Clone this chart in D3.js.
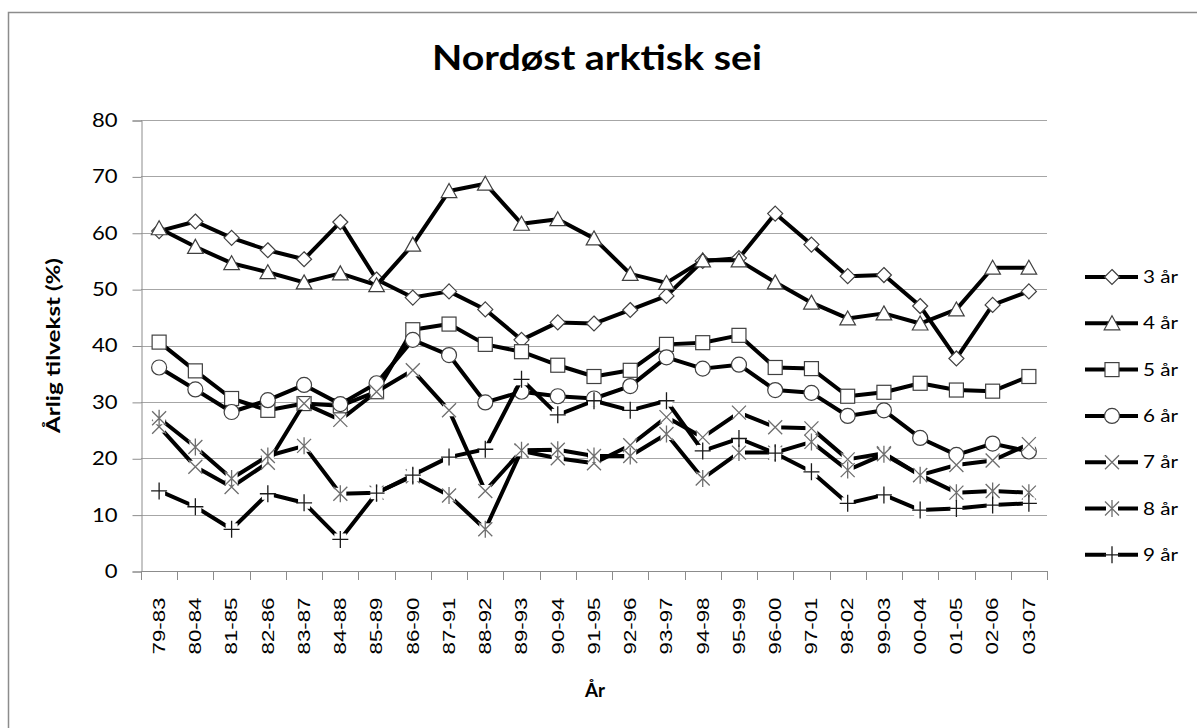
<!DOCTYPE html>
<html>
<head>
<meta charset="utf-8">
<script src="https://cdn.jsdelivr.net/npm/d3@7"></script>
<style>
body { margin: 0; background: #fff; }
</style>
</head>
<body>
<svg id="chart" width="1197" height="728"></svg>
<script>
// ==========
// CHART DATA
// ==========
var categories = ["79-83", "80-84", "81-85", "82-86", "83-87", "84-88", "85-89", "86-90", "87-91", "88-92",
    "89-93", "90-94", "91-95", "92-96", "93-97", "94-98", "95-99", "96-00", "97-01", "98-02",
    "99-03", "00-04", "01-05", "02-06", "03-07"];
var yTicks = [0, 10, 20, 30, 40, 50, 60, 70, 80];
var seriesNames = ["3 år", "4 år", "5 år", "6 år", "7 år", "8 år", "9 år"];

var age3 = [60.3, 62.0, 59.1, 56.9, 55.3, 61.9, 51.7, 48.5, 49.6, 46.4, 41.0, 44.1, 43.9, 46.3, 48.8,
    55.0, 55.5, 63.4, 57.9, 52.3, 52.5, 47.0, 37.7, 47.2, 49.6];
var age4 = [60.8, 57.5, 54.6, 53.0, 51.2, 52.8, 50.7, 57.9, 67.4, 68.7, 61.6, 62.4, 59.0, 52.7, 51.1,
    55.1, 55.1, 51.2, 47.6, 44.8, 45.7, 43.9, 46.4, 53.8, 53.8];
var age5 = [40.6, 35.5, 30.6, 28.5, 29.7, 29.3, 31.8, 42.8, 43.8, 40.2, 38.9, 36.5, 34.5, 35.6, 40.2,
    40.5, 41.8, 36.1, 35.9, 31.0, 31.7, 33.3, 32.1, 31.9, 34.5];
var age6 = [36.1, 32.2, 28.2, 30.3, 33.0, 29.6, 33.3, 41.0, 38.3, 29.9, 31.8, 31.0, 30.6, 32.8, 37.9,
    35.9, 36.6, 32.1, 31.6, 27.5, 28.5, 23.6, 20.6, 22.6, 21.2];
var age7 = [25.6, 18.5, 14.9, 19.2, 29.7, 26.8, 31.8, 35.6, 28.5, 14.2, 21.3, 20.0, 19.1, 22.3, 27.3,
    23.7, 28.1, 25.5, 25.3, 19.8, 20.9, 17.0, 18.8, 19.6, 22.5];
var age8 = [27.1, 22.0, 16.4, 20.4, 22.2, 13.7, 13.9, 16.8, 13.4, 7.4, 21.4, 21.5, 20.4, 20.4, 24.3,
    16.4, 21.0, 21.0, 22.9, 17.9, 20.7, 17.0, 13.9, 14.2, 13.9];
var age9 = [14.2, 11.4, 7.4, 13.7, 12.1, 5.6, 13.8, 17.0, 20.2, 21.6, 34.0, 27.7, 30.2, 28.5, 30.2,
    21.3, 23.5, 20.9, 17.6, 12.0, 13.5, 10.8, 11.1, 11.7, 12.0];

var seriesValues = [age3, age4, age5, age6, age7, age8, age9];
var markerTypes = ["diamond", "triangle", "square", "circle", "cross", "star", "plus"];

// ==========
// MAIN
// ==========
var svg = d3.select("#chart");
var calibri = "Lato, 'Open Sans', sans-serif";

var plotLeft = 141, plotRight = 1047, plotTop = 120, plotBottom = 571;

var x = d3.scaleBand().domain(categories).range([plotLeft, plotRight]);
var y = d3.scaleLinear().domain([0, 80]).range([plotBottom, plotTop]);

// outer frame (only the top and left edges are inside the window)
svg.append("rect")
    .attr("x", 8.5).attr("y", 12.5)
    .attr("width", 1210).attr("height", 740)
    .attr("fill", "none")
    .attr("stroke", "#8c8c8c")
    .attr("stroke-width", 1.5);

// title
svg.append("text")
    .attr("x", 597).attr("y", 70)
    .attr("text-anchor", "middle")
    .attr("font-family", calibri)
    .attr("font-weight", "bold")
    .attr("font-size", 35)
    .attr("textLength", 330)
    .attr("lengthAdjust", "spacingAndGlyphs")
    .text("Nordøst arktisk sei");

// gridlines
svg.append("g")
    .selectAll("line")
    .data(yTicks.filter(function (d) { return d > 0; }))
    .enter().append("line")
    .attr("x1", plotLeft).attr("x2", plotRight)
    .attr("y1", function (d) { return Math.round(y(d)) + 0.5; })
    .attr("y2", function (d) { return Math.round(y(d)) + 0.5; })
    .attr("stroke", "#a6a6a6")
    .attr("stroke-width", 1);

// y axis
var yAxis = svg.append("g")
    .attr("transform", "translate(" + (plotLeft + 0.5) + ",0.5)")
    .call(d3.axisLeft(y).tickValues(yTicks).tickSize(9).tickPadding(15));
yAxis.selectAll("path, line").attr("stroke", "#8c8c8c");
yAxis.selectAll("text")
    .attr("font-family", calibri)
    .attr("font-size", 18.5)
    .attr("textLength", function (d) { return String(d).length * 12.8; })
    .attr("lengthAdjust", "spacingAndGlyphs")
    .attr("fill", "#000");

// x axis: labels through the band scale, ticks at band edges
var xAxis = svg.append("g")
    .attr("transform", "translate(0," + (plotBottom + 0.5) + ")")
    .call(d3.axisBottom(x).tickSize(0).tickPadding(0));
xAxis.select("path").remove();
xAxis.selectAll("text")
    .attr("transform", "rotate(-90)")
    .attr("x", -26)
    .attr("y", 0)
    .attr("dy", "0.35em")
    .attr("text-anchor", "end")
    .attr("font-family", "'Liberation Sans', Arial, sans-serif")
    .attr("font-size", 16.5)
    .attr("textLength", 57)
    .attr("lengthAdjust", "spacingAndGlyphs")
    .attr("fill", "#000");

var edges = categories.map(function (c) { return x(c); }).concat([plotRight]);
svg.append("g")
    .selectAll("line")
    .data(edges)
    .enter().append("line")
    .attr("x1", function (d) { return Math.round(d) + 0.5; })
    .attr("x2", function (d) { return Math.round(d) + 0.5; })
    .attr("y1", plotBottom).attr("y2", plotBottom + 9)
    .attr("stroke", "#8c8c8c");
svg.append("line")
    .attr("x1", plotLeft).attr("x2", plotRight)
    .attr("y1", plotBottom + 0.5).attr("y2", plotBottom + 0.5)
    .attr("stroke", "#8c8c8c");

// axis titles
svg.append("text")
    .attr("transform", "translate(60," + ((plotTop + plotBottom) / 2) + ") rotate(-90)")
    .attr("text-anchor", "middle")
    .attr("font-family", calibri)
    .attr("font-weight", "bold")
    .attr("font-size", 19)
    .attr("textLength", 175)
    .attr("lengthAdjust", "spacingAndGlyphs")
    .text("Årlig tilvekst (%)");

svg.append("text")
    .attr("x", 595).attr("y", 697)
    .attr("text-anchor", "middle")
    .attr("font-family", calibri)
    .attr("font-weight", "bold")
    .attr("font-size", 19)
    .attr("textLength", 20)
    .attr("lengthAdjust", "spacingAndGlyphs")
    .text("År");

// ####################################
// # draws one marker into group g
// ####################################
function drawMarker(g, type) {
    var outline = "#404040";
    if (type === "diamond") {
        g.append("path").attr("d", "M0,-7.5L7.5,0L0,7.5L-7.5,0Z")
            .attr("fill", "#fff").attr("stroke", outline).attr("stroke-width", 1.2);
    } else if (type === "triangle") {
        g.append("path").attr("d", "M0,-7.5L7.8,6.5L-7.8,6.5Z")
            .attr("fill", "#fff").attr("stroke", outline).attr("stroke-width", 1.2);
    } else if (type === "square") {
        g.append("rect").attr("x", -7).attr("y", -7).attr("width", 14).attr("height", 14)
            .attr("fill", "#fff").attr("stroke", outline).attr("stroke-width", 1.2);
    } else if (type === "circle") {
        g.append("circle").attr("r", 7.5)
            .attr("fill", "#fff").attr("stroke", outline).attr("stroke-width", 1.2);
    } else {
        g.append("rect").attr("x", -6).attr("y", -6).attr("width", 12).attr("height", 12)
            .attr("fill", "#fff");
        var d = "M-7,-7L7,7M-7,7L7,-7";
        var col = "#6e6e6e";
        if (type === "star") d += "M0,-8.5L0,8.5";
        if (type === "plus") { d = "M-8,0L8,0M0,-8.5L0,8.5"; col = "#1a1a1a"; }
        g.append("path").attr("d", d)
            .attr("fill", "none").attr("stroke", col).attr("stroke-width", 1.3);
    }
}

var line = d3.line()
    .x(function (d, i) { return x(categories[i]) + x.bandwidth() / 2; })
    .y(function (d) { return y(d); });

seriesValues.forEach(function (values, s) {
    var g = svg.append("g").attr("class", "series");
    g.append("path")
        .attr("d", line(values))
        .attr("fill", "none")
        .attr("stroke", "#000")
        .attr("stroke-width", 4)
        .attr("stroke-linejoin", "round");
    g.selectAll("g.marker")
        .data(values)
        .enter().append("g")
        .attr("class", "marker")
        .attr("transform", function (d, i) {
            return "translate(" + (x(categories[i]) + x.bandwidth() / 2) + "," + y(d) + ")";
        })
        .each(function () { drawMarker(d3.select(this), markerTypes[s]); });
});

// legend
var legend = svg.append("g")
    .selectAll("g")
    .data(seriesNames)
    .enter().append("g")
    .attr("transform", function (d, i) { return "translate(0," + (277 + i * 46.3) + ")"; });

legend.append("line")
    .attr("x1", 1085).attr("x2", 1138)
    .attr("stroke", "#000").attr("stroke-width", 4);
legend.append("g")
    .attr("transform", "translate(1112,0)")
    .each(function (d, i) { drawMarker(d3.select(this), markerTypes[i]); });
legend.append("text")
    .attr("x", 1143).attr("y", 0)
    .attr("dy", "0.35em")
    .attr("font-family", calibri)
    .attr("font-size", 17.5)
    .attr("textLength", 35)
    .attr("lengthAdjust", "spacingAndGlyphs")
    .text(function (d) { return d; });
</script>
</body>
</html>
